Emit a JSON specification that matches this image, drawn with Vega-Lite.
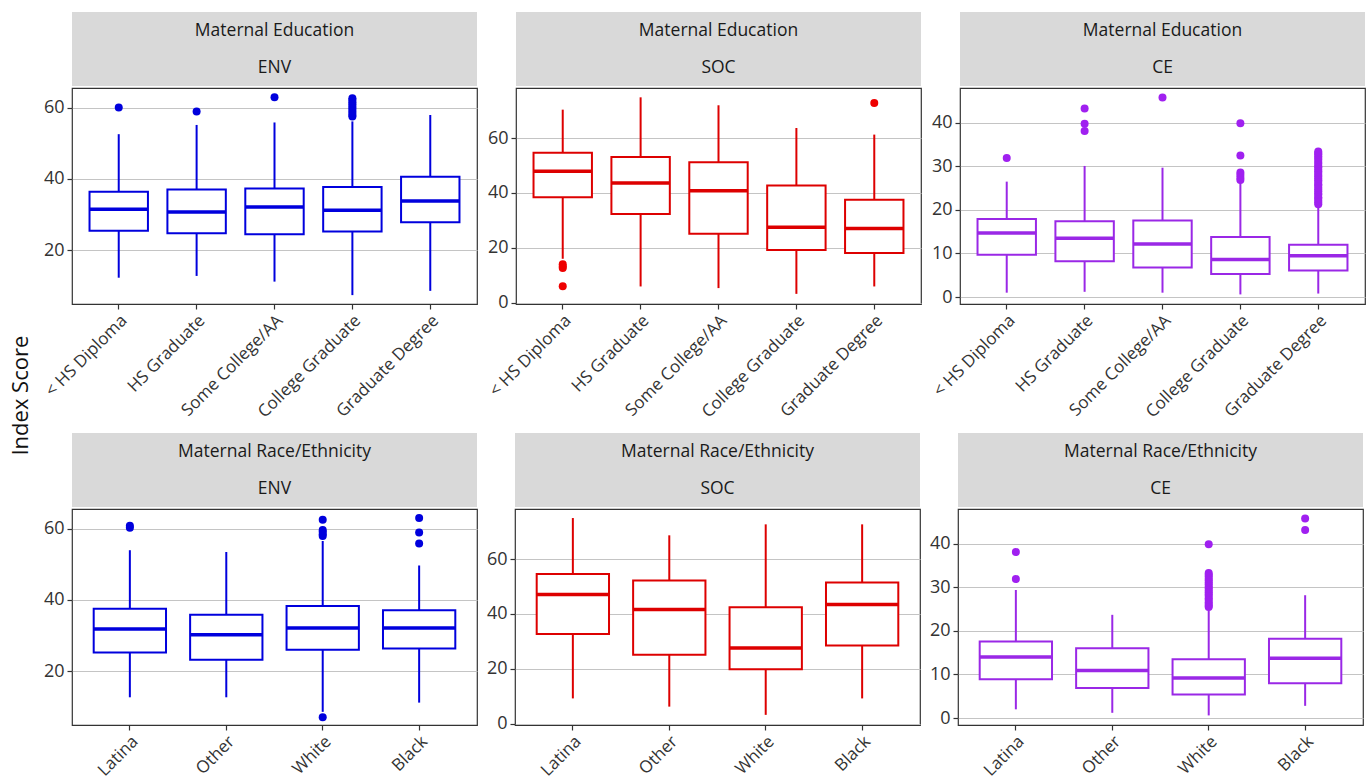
{
"$schema": "https://vega.github.io/schema/vega-lite/v6.json",
"background": "white",
"padding": {"left": 10, "top": 12, "right": 2, "bottom": 2},
"title": {"text": "Index Score", "orient": "left", "anchor": "middle", "fontSize": 22, "fontWeight": "normal", "color": "#111111", "font": "Open Sans", "offset": 8},
"datasets": {
"boxes": [
{"grp": "Education", "idx": "ENV", "cat": "< HS Diploma", "lo": 12.2, "q1": 25.4, "med": 31.5, "q3": 36.4, "hi": 52.6},
{"grp": "Education", "idx": "ENV", "cat": "HS Graduate", "lo": 12.7, "q1": 24.7, "med": 30.7, "q3": 37.0, "hi": 55.2},
{"grp": "Education", "idx": "ENV", "cat": "Some College/AA", "lo": 11.1, "q1": 24.4, "med": 32.1, "q3": 37.3, "hi": 55.9},
{"grp": "Education", "idx": "ENV", "cat": "College Graduate", "lo": 7.3, "q1": 25.2, "med": 31.2, "q3": 37.7, "hi": 56.2},
{"grp": "Education", "idx": "ENV", "cat": "Graduate Degree", "lo": 8.5, "q1": 27.8, "med": 33.8, "q3": 40.6, "hi": 58.0},
{"grp": "Education", "idx": "SOC", "cat": "< HS Diploma", "lo": 16.0, "q1": 38.4, "med": 47.9, "q3": 54.7, "hi": 70.4},
{"grp": "Education", "idx": "SOC", "cat": "HS Graduate", "lo": 5.9, "q1": 32.3, "med": 43.6, "q3": 53.1, "hi": 74.9},
{"grp": "Education", "idx": "SOC", "cat": "Some College/AA", "lo": 5.3, "q1": 25.1, "med": 40.8, "q3": 51.2, "hi": 72.0},
{"grp": "Education", "idx": "SOC", "cat": "College Graduate", "lo": 3.2, "q1": 19.2, "med": 27.5, "q3": 42.7, "hi": 63.7},
{"grp": "Education", "idx": "SOC", "cat": "Graduate Degree", "lo": 5.9, "q1": 18.1, "med": 27.0, "q3": 37.5, "hi": 61.3},
{"grp": "Education", "idx": "CE", "cat": "< HS Diploma", "lo": 1.0, "q1": 9.7, "med": 14.7, "q3": 17.9, "hi": 26.5},
{"grp": "Education", "idx": "CE", "cat": "HS Graduate", "lo": 1.2, "q1": 8.2, "med": 13.5, "q3": 17.4, "hi": 30.1},
{"grp": "Education", "idx": "CE", "cat": "Some College/AA", "lo": 1.0, "q1": 6.8, "med": 12.2, "q3": 17.6, "hi": 29.7},
{"grp": "Education", "idx": "CE", "cat": "College Graduate", "lo": 0.6, "q1": 5.3, "med": 8.6, "q3": 13.8, "hi": 26.2},
{"grp": "Education", "idx": "CE", "cat": "Graduate Degree", "lo": 0.8, "q1": 6.1, "med": 9.5, "q3": 12.0, "hi": 21.0},
{"grp": "Race", "idx": "ENV", "cat": "Latina", "lo": 12.6, "q1": 25.2, "med": 31.8, "q3": 37.5, "hi": 54.0},
{"grp": "Race", "idx": "ENV", "cat": "Other", "lo": 12.6, "q1": 23.2, "med": 30.2, "q3": 35.8, "hi": 53.5},
{"grp": "Race", "idx": "ENV", "cat": "White", "lo": 8.5, "q1": 26.0, "med": 32.1, "q3": 38.3, "hi": 56.6},
{"grp": "Race", "idx": "ENV", "cat": "Black", "lo": 11.1, "q1": 26.3, "med": 32.1, "q3": 37.1, "hi": 49.7},
{"grp": "Race", "idx": "SOC", "cat": "Latina", "lo": 9.2, "q1": 32.7, "med": 47.1, "q3": 54.6, "hi": 75.0},
{"grp": "Race", "idx": "SOC", "cat": "Other", "lo": 6.2, "q1": 25.1, "med": 41.6, "q3": 52.2, "hi": 68.7},
{"grp": "Race", "idx": "SOC", "cat": "White", "lo": 3.2, "q1": 19.8, "med": 27.6, "q3": 42.5, "hi": 72.7},
{"grp": "Race", "idx": "SOC", "cat": "Black", "lo": 9.2, "q1": 28.5, "med": 43.5, "q3": 51.5, "hi": 72.7},
{"grp": "Race", "idx": "CE", "cat": "Latina", "lo": 2.0, "q1": 8.9, "med": 14.0, "q3": 17.6, "hi": 29.4},
{"grp": "Race", "idx": "CE", "cat": "Other", "lo": 1.2, "q1": 6.9, "med": 10.9, "q3": 16.0, "hi": 23.7},
{"grp": "Race", "idx": "CE", "cat": "White", "lo": 0.6, "q1": 5.4, "med": 9.2, "q3": 13.5, "hi": 24.7},
{"grp": "Race", "idx": "CE", "cat": "Black", "lo": 2.8, "q1": 8.0, "med": 13.7, "q3": 18.2, "hi": 28.2}
],
"outliers": [
{"grp": "Education", "idx": "ENV", "cat": "< HS Diploma", "v": 60.1},
{"grp": "Education", "idx": "ENV", "cat": "HS Graduate", "v": 59.0},
{"grp": "Education", "idx": "ENV", "cat": "Some College/AA", "v": 63.0},
{"grp": "Education", "idx": "ENV", "cat": "College Graduate", "v": 62.7},
{"grp": "Education", "idx": "ENV", "cat": "College Graduate", "v": 62.2},
{"grp": "Education", "idx": "ENV", "cat": "College Graduate", "v": 61.6},
{"grp": "Education", "idx": "ENV", "cat": "College Graduate", "v": 61.0},
{"grp": "Education", "idx": "ENV", "cat": "College Graduate", "v": 60.4},
{"grp": "Education", "idx": "ENV", "cat": "College Graduate", "v": 59.8},
{"grp": "Education", "idx": "ENV", "cat": "College Graduate", "v": 59.2},
{"grp": "Education", "idx": "ENV", "cat": "College Graduate", "v": 58.6},
{"grp": "Education", "idx": "ENV", "cat": "College Graduate", "v": 58.0},
{"grp": "Education", "idx": "ENV", "cat": "College Graduate", "v": 57.6},
{"grp": "Education", "idx": "SOC", "cat": "< HS Diploma", "v": 14.0},
{"grp": "Education", "idx": "SOC", "cat": "< HS Diploma", "v": 13.2},
{"grp": "Education", "idx": "SOC", "cat": "< HS Diploma", "v": 12.6},
{"grp": "Education", "idx": "SOC", "cat": "< HS Diploma", "v": 6.0},
{"grp": "Education", "idx": "SOC", "cat": "Graduate Degree", "v": 72.8},
{"grp": "Education", "idx": "CE", "cat": "< HS Diploma", "v": 31.9},
{"grp": "Education", "idx": "CE", "cat": "HS Graduate", "v": 43.3},
{"grp": "Education", "idx": "CE", "cat": "HS Graduate", "v": 39.8},
{"grp": "Education", "idx": "CE", "cat": "HS Graduate", "v": 38.1},
{"grp": "Education", "idx": "CE", "cat": "Some College/AA", "v": 45.8},
{"grp": "Education", "idx": "CE", "cat": "College Graduate", "v": 39.9},
{"grp": "Education", "idx": "CE", "cat": "College Graduate", "v": 32.5},
{"grp": "Education", "idx": "CE", "cat": "College Graduate", "v": 28.6},
{"grp": "Education", "idx": "CE", "cat": "College Graduate", "v": 28.0},
{"grp": "Education", "idx": "CE", "cat": "College Graduate", "v": 27.4},
{"grp": "Education", "idx": "CE", "cat": "College Graduate", "v": 26.9},
{"grp": "Education", "idx": "CE", "cat": "Graduate Degree", "v": 21.3},
{"grp": "Education", "idx": "CE", "cat": "Graduate Degree", "v": 21.7},
{"grp": "Education", "idx": "CE", "cat": "Graduate Degree", "v": 22.1},
{"grp": "Education", "idx": "CE", "cat": "Graduate Degree", "v": 22.6},
{"grp": "Education", "idx": "CE", "cat": "Graduate Degree", "v": 22.9},
{"grp": "Education", "idx": "CE", "cat": "Graduate Degree", "v": 23.5},
{"grp": "Education", "idx": "CE", "cat": "Graduate Degree", "v": 23.8},
{"grp": "Education", "idx": "CE", "cat": "Graduate Degree", "v": 24.3},
{"grp": "Education", "idx": "CE", "cat": "Graduate Degree", "v": 24.7},
{"grp": "Education", "idx": "CE", "cat": "Graduate Degree", "v": 25.1},
{"grp": "Education", "idx": "CE", "cat": "Graduate Degree", "v": 25.6},
{"grp": "Education", "idx": "CE", "cat": "Graduate Degree", "v": 25.9},
{"grp": "Education", "idx": "CE", "cat": "Graduate Degree", "v": 26.4},
{"grp": "Education", "idx": "CE", "cat": "Graduate Degree", "v": 26.8},
{"grp": "Education", "idx": "CE", "cat": "Graduate Degree", "v": 27.2},
{"grp": "Education", "idx": "CE", "cat": "Graduate Degree", "v": 27.7},
{"grp": "Education", "idx": "CE", "cat": "Graduate Degree", "v": 28.0},
{"grp": "Education", "idx": "CE", "cat": "Graduate Degree", "v": 28.5},
{"grp": "Education", "idx": "CE", "cat": "Graduate Degree", "v": 28.9},
{"grp": "Education", "idx": "CE", "cat": "Graduate Degree", "v": 29.3},
{"grp": "Education", "idx": "CE", "cat": "Graduate Degree", "v": 29.8},
{"grp": "Education", "idx": "CE", "cat": "Graduate Degree", "v": 30.1},
{"grp": "Education", "idx": "CE", "cat": "Graduate Degree", "v": 30.6},
{"grp": "Education", "idx": "CE", "cat": "Graduate Degree", "v": 31.0},
{"grp": "Education", "idx": "CE", "cat": "Graduate Degree", "v": 31.5},
{"grp": "Education", "idx": "CE", "cat": "Graduate Degree", "v": 31.9},
{"grp": "Education", "idx": "CE", "cat": "Graduate Degree", "v": 32.3},
{"grp": "Education", "idx": "CE", "cat": "Graduate Degree", "v": 32.8},
{"grp": "Education", "idx": "CE", "cat": "Graduate Degree", "v": 33.1},
{"grp": "Education", "idx": "CE", "cat": "Graduate Degree", "v": 33.4},
{"grp": "Race", "idx": "ENV", "cat": "Latina", "v": 60.9},
{"grp": "Race", "idx": "ENV", "cat": "Latina", "v": 60.3},
{"grp": "Race", "idx": "ENV", "cat": "White", "v": 62.6},
{"grp": "Race", "idx": "ENV", "cat": "White", "v": 59.7},
{"grp": "Race", "idx": "ENV", "cat": "White", "v": 59.2},
{"grp": "Race", "idx": "ENV", "cat": "White", "v": 58.5},
{"grp": "Race", "idx": "ENV", "cat": "White", "v": 58.0},
{"grp": "Race", "idx": "ENV", "cat": "White", "v": 7.0},
{"grp": "Race", "idx": "ENV", "cat": "Black", "v": 63.1},
{"grp": "Race", "idx": "ENV", "cat": "Black", "v": 59.0},
{"grp": "Race", "idx": "ENV", "cat": "Black", "v": 55.9},
{"grp": "Race", "idx": "CE", "cat": "Latina", "v": 38.1},
{"grp": "Race", "idx": "CE", "cat": "Latina", "v": 31.9},
{"grp": "Race", "idx": "CE", "cat": "White", "v": 39.9},
{"grp": "Race", "idx": "CE", "cat": "White", "v": 33.3},
{"grp": "Race", "idx": "CE", "cat": "White", "v": 32.9},
{"grp": "Race", "idx": "CE", "cat": "White", "v": 32.5},
{"grp": "Race", "idx": "CE", "cat": "White", "v": 32.0},
{"grp": "Race", "idx": "CE", "cat": "White", "v": 31.6},
{"grp": "Race", "idx": "CE", "cat": "White", "v": 31.1},
{"grp": "Race", "idx": "CE", "cat": "White", "v": 30.7},
{"grp": "Race", "idx": "CE", "cat": "White", "v": 30.2},
{"grp": "Race", "idx": "CE", "cat": "White", "v": 29.8},
{"grp": "Race", "idx": "CE", "cat": "White", "v": 29.3},
{"grp": "Race", "idx": "CE", "cat": "White", "v": 28.9},
{"grp": "Race", "idx": "CE", "cat": "White", "v": 28.4},
{"grp": "Race", "idx": "CE", "cat": "White", "v": 28.0},
{"grp": "Race", "idx": "CE", "cat": "White", "v": 27.5},
{"grp": "Race", "idx": "CE", "cat": "White", "v": 27.1},
{"grp": "Race", "idx": "CE", "cat": "White", "v": 26.6},
{"grp": "Race", "idx": "CE", "cat": "White", "v": 26.2},
{"grp": "Race", "idx": "CE", "cat": "White", "v": 25.8},
{"grp": "Race", "idx": "CE", "cat": "White", "v": 25.5},
{"grp": "Race", "idx": "CE", "cat": "Black", "v": 45.8},
{"grp": "Race", "idx": "CE", "cat": "Black", "v": 43.2}
]
},
"spacing": 12,
"vconcat": [
{"spacing": 7, "hconcat": [
{"spacing": 1, "vconcat": [
 {"width": 405, "height": 74, "view": {"fill": "#d9d9d9", "stroke": null},
  "data": {"values": [{"pos": 1, "txt": "Maternal Education"}, {"pos": 2, "txt": "ENV"}]},
  "mark": {"type": "text", "fontSize": 17.5, "color": "#1a1a1a"},
  "encoding": {"y": {"field": "pos", "type": "ordinal", "axis": null}, "text": {"field": "txt"}}},
 {"width": 405, "height": 216, "layer": [
  {"data": {"name": "boxes"}, "transform": [{"filter": "datum.grp == 'Education' && datum.idx == 'ENV'"}],
   "mark": {"type": "rule", "color": "#0000dd", "strokeWidth": 2},
   "encoding": {"x": {"field": "cat", "type": "nominal", "title": null, "scale": {"type": "band", "domain": ["< HS Diploma", "HS Graduate", "Some College/AA", "College Graduate", "Graduate Degree"], "paddingInner": 0, "paddingOuter": 0.1}},
    "y": {"field": "lo", "type": "quantitative", "title": null, "scale": {"domain": [4.8, 65.6], "nice": false, "zero": false}, "axis": {"values": [20, 40, 60]}}, "y2": {"field": "hi"}}},
  {"data": {"name": "boxes"}, "transform": [{"filter": "datum.grp == 'Education' && datum.idx == 'ENV'"}],
   "mark": {"type": "bar", "fill": "white", "stroke": "#0000dd", "strokeWidth": 2, "width": {"band": 0.75}},
   "encoding": {"x": {"field": "cat", "type": "nominal"}, "y": {"field": "q1", "type": "quantitative"}, "y2": {"field": "q3"}}},
  {"data": {"name": "boxes"}, "transform": [{"filter": "datum.grp == 'Education' && datum.idx == 'ENV'"}],
   "mark": {"type": "bar", "fill": "white", "stroke": "#0000dd", "strokeWidth": 3.5, "width": {"band": 0.75}},
   "encoding": {"x": {"field": "cat", "type": "nominal"}, "y": {"field": "med", "type": "quantitative"}, "y2": {"field": "med"}}},
  {"data": {"name": "outliers"}, "transform": [{"filter": "datum.grp == 'Education' && datum.idx == 'ENV'"}],
   "mark": {"type": "circle", "size": 64, "color": "#0000dd", "opacity": 1},
   "encoding": {"x": {"field": "cat", "type": "nominal"}, "y": {"field": "v", "type": "quantitative"}}}
 ]}
]},
{"spacing": 1, "vconcat": [
 {"width": 405, "height": 74, "view": {"fill": "#d9d9d9", "stroke": null},
  "data": {"values": [{"pos": 1, "txt": "Maternal Education"}, {"pos": 2, "txt": "SOC"}]},
  "mark": {"type": "text", "fontSize": 17.5, "color": "#1a1a1a"},
  "encoding": {"y": {"field": "pos", "type": "ordinal", "axis": null}, "text": {"field": "txt"}}},
 {"width": 405, "height": 216, "layer": [
  {"data": {"name": "boxes"}, "transform": [{"filter": "datum.grp == 'Education' && datum.idx == 'SOC'"}],
   "mark": {"type": "rule", "color": "#dd0000", "strokeWidth": 2},
   "encoding": {"x": {"field": "cat", "type": "nominal", "title": null, "scale": {"type": "band", "domain": ["< HS Diploma", "HS Graduate", "Some College/AA", "College Graduate", "Graduate Degree"], "paddingInner": 0, "paddingOuter": 0.1}},
    "y": {"field": "lo", "type": "quantitative", "title": null, "scale": {"domain": [-0.5, 78.3], "nice": false, "zero": false}, "axis": {"values": [0, 20, 40, 60]}}, "y2": {"field": "hi"}}},
  {"data": {"name": "boxes"}, "transform": [{"filter": "datum.grp == 'Education' && datum.idx == 'SOC'"}],
   "mark": {"type": "bar", "fill": "white", "stroke": "#dd0000", "strokeWidth": 2, "width": {"band": 0.75}},
   "encoding": {"x": {"field": "cat", "type": "nominal"}, "y": {"field": "q1", "type": "quantitative"}, "y2": {"field": "q3"}}},
  {"data": {"name": "boxes"}, "transform": [{"filter": "datum.grp == 'Education' && datum.idx == 'SOC'"}],
   "mark": {"type": "bar", "fill": "white", "stroke": "#dd0000", "strokeWidth": 3.5, "width": {"band": 0.75}},
   "encoding": {"x": {"field": "cat", "type": "nominal"}, "y": {"field": "med", "type": "quantitative"}, "y2": {"field": "med"}}},
  {"data": {"name": "outliers"}, "transform": [{"filter": "datum.grp == 'Education' && datum.idx == 'SOC'"}],
   "mark": {"type": "circle", "size": 64, "color": "#ee0000", "opacity": 1},
   "encoding": {"x": {"field": "cat", "type": "nominal"}, "y": {"field": "v", "type": "quantitative"}}}
 ]}
]},
{"spacing": 1, "vconcat": [
 {"width": 405, "height": 74, "view": {"fill": "#d9d9d9", "stroke": null},
  "data": {"values": [{"pos": 1, "txt": "Maternal Education"}, {"pos": 2, "txt": "CE"}]},
  "mark": {"type": "text", "fontSize": 17.5, "color": "#1a1a1a"},
  "encoding": {"y": {"field": "pos", "type": "ordinal", "axis": null}, "text": {"field": "txt"}}},
 {"width": 405, "height": 216, "layer": [
  {"data": {"name": "boxes"}, "transform": [{"filter": "datum.grp == 'Education' && datum.idx == 'CE'"}],
   "mark": {"type": "rule", "color": "#9a28e6", "strokeWidth": 2},
   "encoding": {"x": {"field": "cat", "type": "nominal", "title": null, "scale": {"type": "band", "domain": ["< HS Diploma", "HS Graduate", "Some College/AA", "College Graduate", "Graduate Degree"], "paddingInner": 0, "paddingOuter": 0.1}},
    "y": {"field": "lo", "type": "quantitative", "title": null, "scale": {"domain": [-1.6, 48.0], "nice": false, "zero": false}, "axis": {"values": [0, 10, 20, 30, 40]}}, "y2": {"field": "hi"}}},
  {"data": {"name": "boxes"}, "transform": [{"filter": "datum.grp == 'Education' && datum.idx == 'CE'"}],
   "mark": {"type": "bar", "fill": "white", "stroke": "#9a28e6", "strokeWidth": 2, "width": {"band": 0.75}},
   "encoding": {"x": {"field": "cat", "type": "nominal"}, "y": {"field": "q1", "type": "quantitative"}, "y2": {"field": "q3"}}},
  {"data": {"name": "boxes"}, "transform": [{"filter": "datum.grp == 'Education' && datum.idx == 'CE'"}],
   "mark": {"type": "bar", "fill": "white", "stroke": "#9a28e6", "strokeWidth": 3.5, "width": {"band": 0.75}},
   "encoding": {"x": {"field": "cat", "type": "nominal"}, "y": {"field": "med", "type": "quantitative"}, "y2": {"field": "med"}}},
  {"data": {"name": "outliers"}, "transform": [{"filter": "datum.grp == 'Education' && datum.idx == 'CE'"}],
   "mark": {"type": "circle", "size": 64, "color": "#a020f0", "opacity": 1},
   "encoding": {"x": {"field": "cat", "type": "nominal"}, "y": {"field": "v", "type": "quantitative"}}}
 ]}
]}
]},
{"spacing": 7, "hconcat": [
{"spacing": 1, "vconcat": [
 {"width": 405, "height": 74, "view": {"fill": "#d9d9d9", "stroke": null},
  "data": {"values": [{"pos": 1, "txt": "Maternal Race/Ethnicity"}, {"pos": 2, "txt": "ENV"}]},
  "mark": {"type": "text", "fontSize": 17.5, "color": "#1a1a1a"},
  "encoding": {"y": {"field": "pos", "type": "ordinal", "axis": null}, "text": {"field": "txt"}}},
 {"width": 405, "height": 216, "layer": [
  {"data": {"name": "boxes"}, "transform": [{"filter": "datum.grp == 'Race' && datum.idx == 'ENV'"}],
   "mark": {"type": "rule", "color": "#0000dd", "strokeWidth": 2},
   "encoding": {"x": {"field": "cat", "type": "nominal", "title": null, "scale": {"type": "band", "domain": ["Latina", "Other", "White", "Black"], "paddingInner": 0, "paddingOuter": 0.1}},
    "y": {"field": "lo", "type": "quantitative", "title": null, "scale": {"domain": [4.8, 65.6], "nice": false, "zero": false}, "axis": {"values": [20, 40, 60]}}, "y2": {"field": "hi"}}},
  {"data": {"name": "boxes"}, "transform": [{"filter": "datum.grp == 'Race' && datum.idx == 'ENV'"}],
   "mark": {"type": "bar", "fill": "white", "stroke": "#0000dd", "strokeWidth": 2, "width": {"band": 0.75}},
   "encoding": {"x": {"field": "cat", "type": "nominal"}, "y": {"field": "q1", "type": "quantitative"}, "y2": {"field": "q3"}}},
  {"data": {"name": "boxes"}, "transform": [{"filter": "datum.grp == 'Race' && datum.idx == 'ENV'"}],
   "mark": {"type": "bar", "fill": "white", "stroke": "#0000dd", "strokeWidth": 3.5, "width": {"band": 0.75}},
   "encoding": {"x": {"field": "cat", "type": "nominal"}, "y": {"field": "med", "type": "quantitative"}, "y2": {"field": "med"}}},
  {"data": {"name": "outliers"}, "transform": [{"filter": "datum.grp == 'Race' && datum.idx == 'ENV'"}],
   "mark": {"type": "circle", "size": 64, "color": "#0000dd", "opacity": 1},
   "encoding": {"x": {"field": "cat", "type": "nominal"}, "y": {"field": "v", "type": "quantitative"}}}
 ]}
]},
{"spacing": 1, "vconcat": [
 {"width": 405, "height": 74, "view": {"fill": "#d9d9d9", "stroke": null},
  "data": {"values": [{"pos": 1, "txt": "Maternal Race/Ethnicity"}, {"pos": 2, "txt": "SOC"}]},
  "mark": {"type": "text", "fontSize": 17.5, "color": "#1a1a1a"},
  "encoding": {"y": {"field": "pos", "type": "ordinal", "axis": null}, "text": {"field": "txt"}}},
 {"width": 405, "height": 216, "layer": [
  {"data": {"name": "boxes"}, "transform": [{"filter": "datum.grp == 'Race' && datum.idx == 'SOC'"}],
   "mark": {"type": "rule", "color": "#dd0000", "strokeWidth": 2},
   "encoding": {"x": {"field": "cat", "type": "nominal", "title": null, "scale": {"type": "band", "domain": ["Latina", "Other", "White", "Black"], "paddingInner": 0, "paddingOuter": 0.1}},
    "y": {"field": "lo", "type": "quantitative", "title": null, "scale": {"domain": [-0.5, 78.3], "nice": false, "zero": false}, "axis": {"values": [0, 20, 40, 60]}}, "y2": {"field": "hi"}}},
  {"data": {"name": "boxes"}, "transform": [{"filter": "datum.grp == 'Race' && datum.idx == 'SOC'"}],
   "mark": {"type": "bar", "fill": "white", "stroke": "#dd0000", "strokeWidth": 2, "width": {"band": 0.75}},
   "encoding": {"x": {"field": "cat", "type": "nominal"}, "y": {"field": "q1", "type": "quantitative"}, "y2": {"field": "q3"}}},
  {"data": {"name": "boxes"}, "transform": [{"filter": "datum.grp == 'Race' && datum.idx == 'SOC'"}],
   "mark": {"type": "bar", "fill": "white", "stroke": "#dd0000", "strokeWidth": 3.5, "width": {"band": 0.75}},
   "encoding": {"x": {"field": "cat", "type": "nominal"}, "y": {"field": "med", "type": "quantitative"}, "y2": {"field": "med"}}}
 ]}
]},
{"spacing": 1, "vconcat": [
 {"width": 405, "height": 74, "view": {"fill": "#d9d9d9", "stroke": null},
  "data": {"values": [{"pos": 1, "txt": "Maternal Race/Ethnicity"}, {"pos": 2, "txt": "CE"}]},
  "mark": {"type": "text", "fontSize": 17.5, "color": "#1a1a1a"},
  "encoding": {"y": {"field": "pos", "type": "ordinal", "axis": null}, "text": {"field": "txt"}}},
 {"width": 405, "height": 216, "layer": [
  {"data": {"name": "boxes"}, "transform": [{"filter": "datum.grp == 'Race' && datum.idx == 'CE'"}],
   "mark": {"type": "rule", "color": "#9a28e6", "strokeWidth": 2},
   "encoding": {"x": {"field": "cat", "type": "nominal", "title": null, "scale": {"type": "band", "domain": ["Latina", "Other", "White", "Black"], "paddingInner": 0, "paddingOuter": 0.1}},
    "y": {"field": "lo", "type": "quantitative", "title": null, "scale": {"domain": [-1.6, 48.0], "nice": false, "zero": false}, "axis": {"values": [0, 10, 20, 30, 40]}}, "y2": {"field": "hi"}}},
  {"data": {"name": "boxes"}, "transform": [{"filter": "datum.grp == 'Race' && datum.idx == 'CE'"}],
   "mark": {"type": "bar", "fill": "white", "stroke": "#9a28e6", "strokeWidth": 2, "width": {"band": 0.75}},
   "encoding": {"x": {"field": "cat", "type": "nominal"}, "y": {"field": "q1", "type": "quantitative"}, "y2": {"field": "q3"}}},
  {"data": {"name": "boxes"}, "transform": [{"filter": "datum.grp == 'Race' && datum.idx == 'CE'"}],
   "mark": {"type": "bar", "fill": "white", "stroke": "#9a28e6", "strokeWidth": 3.5, "width": {"band": 0.75}},
   "encoding": {"x": {"field": "cat", "type": "nominal"}, "y": {"field": "med", "type": "quantitative"}, "y2": {"field": "med"}}},
  {"data": {"name": "outliers"}, "transform": [{"filter": "datum.grp == 'Race' && datum.idx == 'CE'"}],
   "mark": {"type": "circle", "size": 64, "color": "#a020f0", "opacity": 1},
   "encoding": {"x": {"field": "cat", "type": "nominal"}, "y": {"field": "v", "type": "quantitative"}}}
 ]}
]}
]}
],
"config": {
 "font": "Open Sans",
 "view": {"stroke": "#333333", "strokeWidth": 1.2},
 "axis": {"labelFont": "Open Sans", "labelFontSize": 18, "labelColor": "#333333", "tickColor": "#333333", "tickWidth": 1.2, "tickSize": 5, "labelPadding": 3, "domain": false, "gridColor": "#c4c4c4", "gridWidth": 1.2, "title": null},
 "axisX": {"grid": false, "labelAngle": -45, "labelFontSize": 17},
 "axisY": {"grid": true}
}
}
